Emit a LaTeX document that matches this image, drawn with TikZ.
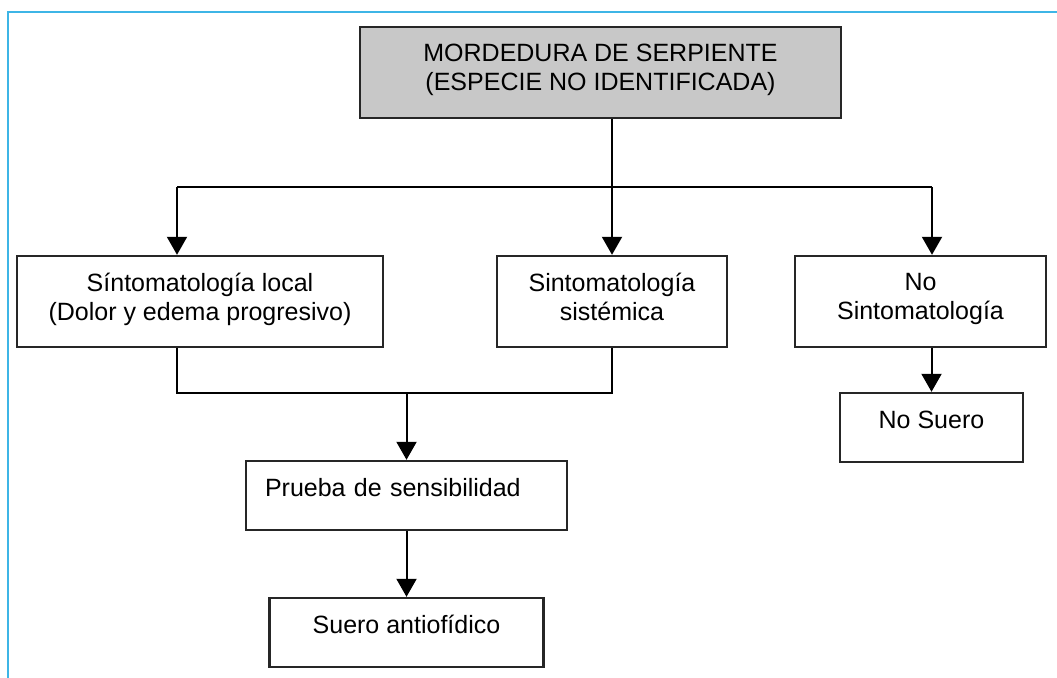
\documentclass[tikz,border=0pt]{standalone}
\usepackage{fontspec}
\setmainfont{Liberation Sans}
\usepackage{tikz}
\usetikzlibrary{arrows.meta}
\definecolor{framecyan}{HTML}{3DB5E6}
\definecolor{headgray}{HTML}{C8C8C8}
\tikzset{
  every box/.style={draw=black!85,line width=1.2pt,fill=white,align=center,
    text depth=5pt,inner sep=0pt,minimum height=45.5pt,
    font=\fontsize{12.5}{14.5}\selectfont},
  low box/.style={every box,text depth=8pt,minimum height=34.5pt},
  link/.style={line width=1pt,-{Triangle[length=9pt,width=10pt]}},
  wire/.style={line width=1pt},
}

\begin{document}
\begin{tikzpicture}[x=0.5pt,y=-0.5pt]
\useasboundingbox (0,0) rectangle (1057,678);
\draw[framecyan,line width=1pt] (8,678) -- (8,12) -- (1057,12);
\node[every box,fill=headgray,minimum width=240.5pt] (serpiente) at (600.5,72.5) {MORDEDURA DE SERPIENTE\\(ESPECIE NO IDENTIFICADA)};
\node[every box,minimum width=183pt] (local) at (200,301.5) {Síntomatología local\\(Dolor y edema progresivo)};
\node[every box,minimum width=115pt] (sistemica) at (612,301.5) {Sintomatología\\sistémica};
\node[every box,minimum width=125.5pt] (nosint) at (920.5,301.5) {No\\Sintomatología};
\node[low box,minimum width=91.5pt] (nosuero) at (931.5,427.5) {No Suero};
\node[low box,align=left,text width=141.5pt,inner xsep=9.5pt] (prueba) at (406.5,495.5) {Prueba de sensibilidad};
\node[low box,minimum width=137pt] (suero) at (406.5,632.5) {Suero antiofídico};
\coordinate (ramaL) at (177,187);
\coordinate (ramaR) at (932,187);
\coordinate (union) at (406.5,393);
\draw[link] (serpiente.south -| sistemica) -- (sistemica);
\draw[wire] (ramaL) -- (ramaR);
\foreach \rama/\caja in {ramaL/local, ramaR/nosint}
  \draw[link] (\rama) -- (\rama |- \caja.north);
\draw[wire] (local.south -| ramaL) |- (union) -| (sistemica.south);
\draw[link] (union) -- (prueba);
\draw[link] (prueba) -- (suero);
\draw[link] (nosint.south -| nosuero) -- (nosuero);
\end{tikzpicture}
\end{document}
